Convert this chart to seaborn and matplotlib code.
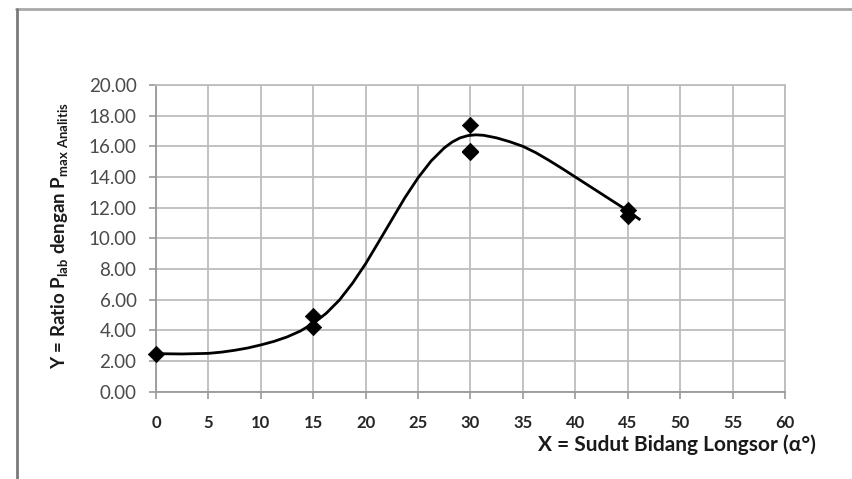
import matplotlib
matplotlib.use("Agg")
import matplotlib.pyplot as plt
import seaborn as sns
import pandas as pd
from matplotlib.lines import Line2D

# Measured data points
obs_x = [0, 15, 15, 30, 30, 30, 45, 45]
obs_y = [2.46, 4.94, 4.22, 17.40, 15.70, 15.60, 11.85, 11.45]

# Smooth trend curve
curve_x = [0, 2.5, 5, 6.25, 7.5, 8.75, 10, 11.25, 12.5, 13.75, 15, 16.25, 17.5, 18.75, 20,
           21.25, 22.5, 23.75, 25, 26.25, 27.5, 28.25, 29, 29.75, 30.5, 31.25, 32.5,
           33.75, 35, 36.25, 37.5, 38.75, 40, 41.25, 42.5, 43.75, 45, 46.2]
curve_y = [2.48, 2.46, 2.50, 2.58, 2.70, 2.85, 3.05, 3.28, 3.57, 3.95, 4.45, 5.12, 5.98, 7.08, 8.35,
           9.78, 11.22, 12.66, 13.95, 15.05, 15.90, 16.28, 16.55, 16.70, 16.75, 16.72, 16.55,
           16.30, 16.00, 15.58, 15.08, 14.55, 14.00, 13.45, 12.90, 12.35, 11.80, 11.20]

x_ticks = list(range(0, 61, 5))
y_ticks = [0, 2, 4, 6, 8, 10, 12, 14, 16, 18, 20]

x_label = "X = Sudut Bidang Longsor (\u03b1\u00b0)"
y_label = r"Y = Ratio P$_{\mathregular{lab}}$ dengan P$_{\mathregular{max\ Analitis}}$"

sns.set_theme(style="white")
plt.rcParams['font.family'] = ['Lato', 'DejaVu Sans']

fig = plt.figure(figsize=(8.53, 4.79), dpi=100)
ax = fig.add_axes([156/853, 1-391.7/479, (785-156)/853, (391.7-85)/479])

obs = pd.DataFrame({"x": obs_x, "y": obs_y})
curve = pd.DataFrame({"x": curve_x, "y": curve_y})

sns.lineplot(data=curve, x="x", y="y", ax=ax, color="black", linewidth=2.0, sort=False,
             zorder=3, solid_joinstyle="round", solid_capstyle="butt")
sns.scatterplot(data=obs, x="x", y="y", ax=ax, marker="D", s=70, color="black",
                edgecolor="black", linewidth=0.5, zorder=4, clip_on=False)

ax.set_xlim(0, 60)
ax.set_ylim(0, 20)
ax.set_xticks(x_ticks)
ax.set_yticks(y_ticks)
ax.set_xticklabels([str(v) for v in x_ticks], fontsize=12, fontweight="bold", color="#262626")
ax.set_yticklabels([f"{v:.2f}" for v in y_ticks], fontsize=13.5, color="#4a4a4a")
ax.grid(True, color="#bdbdbd", linewidth=1.3)
ax.set_axisbelow(True)
for s in ["top", "right"]:
    ax.spines[s].set_color("#bdbdbd")
    ax.spines[s].set_linewidth(1.3)
for s in ["left", "bottom"]:
    ax.spines[s].set_color("#9a9a9a")
    ax.spines[s].set_linewidth(1.3)
ax.tick_params(axis="both", which="major", length=5, width=1.2, color="#9a9a9a",
               direction="out", left=True, bottom=True)
ax.tick_params(axis="y", pad=9)
ax.tick_params(axis="x", pad=12)
ax.set_xlabel("")
ax.set_ylabel("")

fig.text(0.071, 1-236/479, y_label, rotation=90, ha="center", va="center",
         fontsize=13.5, fontweight="bold", color="#1a1a1a")
fig.text(816/853, 1-445/479, x_label, ha="right", va="center",
         fontsize=15, fontweight="bold", color="#1a1a1a")

# outer frame lines (top and left)
fig.add_artist(Line2D([16/853, 1.0], [1-8.5/479, 1-8.5/479], transform=fig.transFigure,
                      color="#a8a8a8", linewidth=2))
fig.add_artist(Line2D([16.5/853, 16.5/853], [0, 1-8.5/479], transform=fig.transFigure,
                      color="#7a7a7a", linewidth=2))

fig.savefig("out.png", dpi=100)
